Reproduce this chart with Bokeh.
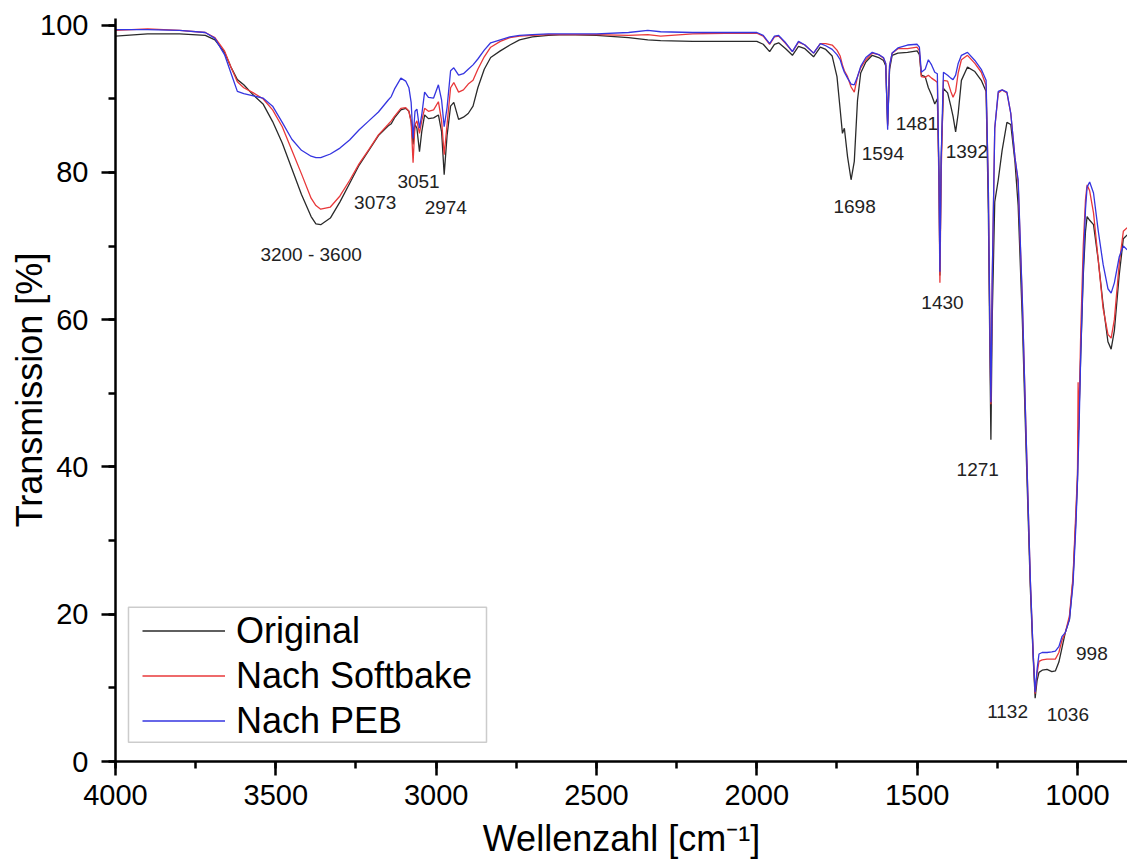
from bokeh.plotting import figure
from bokeh.models import (Range1d, SingleIntervalTicker, Legend, LegendItem,
                          ColumnDataSource, BoxAnnotation)
from bokeh.core.properties import value
from bokeh.embed import file_html
from bokeh.resources import INLINE

wavenumber = [4000, 3900, 3800, 3720, 3690, 3660, 3640, 3620, 3600, 3570,
              3540, 3510, 3480, 3450, 3420, 3390, 3375, 3360, 3330, 3300,
              3270, 3240, 3210, 3180, 3150, 3140, 3130, 3110, 3095, 3085,
              3078, 3072, 3066, 3060, 3052, 3045, 3036, 3024, 3008, 2993,
              2983, 2975, 2966, 2955, 2945, 2930, 2915, 2900, 2885, 2870,
              2850, 2830, 2800, 2770, 2740, 2700, 2650, 2600, 2500, 2400,
              2340, 2300, 2200, 2100, 2000, 1980, 1960, 1945, 1932, 1910,
              1889, 1870, 1850, 1823, 1802, 1785, 1765, 1750, 1740, 1733,
              1727, 1717, 1706, 1696, 1686, 1676, 1660, 1640, 1620, 1605,
              1598, 1592, 1586, 1578, 1560, 1530, 1500, 1493, 1487, 1475,
              1465, 1455, 1445, 1437, 1432, 1429, 1425, 1418, 1405, 1395,
              1388, 1380, 1372, 1362, 1343, 1320, 1300, 1285, 1278, 1273,
              1270, 1266, 1258, 1247, 1235, 1220, 1208, 1195, 1185, 1172,
              1160, 1147, 1138, 1132, 1126, 1120, 1110, 1095, 1080, 1069,
              1058, 1048, 1038, 1025, 1014, 1005, 1000, 998, 996, 990,
              982, 975, 970, 962, 950, 935, 920, 905, 895, 885,
              870, 857, 845]

original = [98.5, 98.8, 98.8, 98.6, 98.0, 96.3, 94.3, 92.6, 91.9, 90.5,
            89.3, 86.9, 84.0, 80.5, 77.0, 74.0, 73.0, 72.9, 73.8, 76.0,
            78.5, 81.0, 83.0, 85.0, 86.3, 86.6, 87.4, 88.5, 88.7, 88.3,
            87.0, 83.8, 86.5, 86.0, 82.8, 85.5, 87.8, 87.3, 87.4, 87.8,
            85.5, 79.7, 85.0, 89.0, 89.5, 87.2, 87.5, 88.0, 89.0, 91.5,
            94.0, 95.6, 96.5, 97.3, 98.0, 98.4, 98.6, 98.7, 98.6, 98.3,
            98.0, 97.9, 97.8, 97.8, 97.8, 97.4, 96.4, 97.4, 97.6, 96.8,
            95.9, 97.1, 96.8, 95.7, 97.0, 96.7, 95.8, 93.0, 88.5, 85.3,
            86.0, 82.1, 79.0, 81.5, 89.8, 93.5, 95.0, 95.9, 95.6, 95.2,
            94.5, 86.5, 94.0, 95.9, 96.2, 96.3, 96.5, 96.0, 93.2, 93.0,
            91.5, 90.5, 89.3, 90.0, 80.0, 66.0, 82.0, 91.4, 90.8, 89.0,
            87.6, 85.5, 88.0, 92.5, 94.3, 93.7, 92.5, 91.0, 75.0, 55.0,
            43.7, 60.0, 76.0, 79.0, 83.0, 86.8, 86.5, 81.5, 75.5, 60.0,
            42.0, 23.5, 14.0, 8.6, 11.0, 12.1, 12.4, 12.5, 12.2, 12.3,
            13.5, 15.5, 17.5, 19.3, 24.7, 33.0, 38.3, 44.0, 46.0, 55.0,
            66.0, 72.0, 74.0, 73.5, 72.9, 68.0, 62.0, 57.0, 56.0, 58.5,
            66.0, 71.0, 71.5]

softbake = [99.3, 99.5, 99.3, 99.0, 98.3, 96.5, 94.3, 92.3, 91.5, 90.8,
            90.0, 88.5, 86.2, 83.0, 79.8, 76.5, 75.5, 75.0, 75.3, 76.8,
            78.9, 81.2, 83.1, 85.1, 86.5, 87.0, 87.6, 88.7, 88.8, 88.3,
            86.8, 81.3, 86.5, 87.0, 85.3, 87.0, 88.7, 88.3, 88.5, 89.6,
            87.0, 82.4, 86.5, 91.5, 92.2, 90.9, 91.2, 92.0, 92.5, 94.0,
            95.7, 97.0, 97.8, 98.3, 98.5, 98.6, 98.7, 98.7, 98.7, 98.6,
            98.7, 98.5, 98.8, 98.9, 98.9, 98.5, 97.4, 98.4, 98.5, 97.5,
            96.4, 97.7, 97.3, 96.2, 97.5, 97.5, 97.3, 96.6, 95.8, 94.6,
            93.8, 93.0, 91.6, 90.9, 93.0, 94.2, 95.3, 96.2, 96.0, 95.5,
            94.8, 86.3, 94.5, 96.2, 96.8, 96.8, 97.0, 96.5, 93.0, 92.9,
            93.2, 92.8, 92.5, 92.2, 78.0, 65.0, 80.0, 92.5, 92.4, 91.0,
            90.2, 91.0, 93.5, 95.3, 95.9, 94.8, 93.6, 91.8, 78.0, 58.0,
            48.5, 65.0, 86.0, 90.8, 91.2, 90.8, 88.0, 82.0, 78.5, 62.5,
            44.0, 24.5, 14.5, 9.2, 12.0, 13.6, 13.8, 13.9, 13.9, 13.9,
            14.8, 16.5, 17.5, 19.8, 25.0, 34.0, 39.0, 51.5, 45.0, 58.0,
            70.0, 76.3, 78.3, 77.5, 74.5, 68.0, 61.5, 58.0, 57.5, 60.0,
            67.5, 72.0, 72.5]

peb = [99.4, 99.4, 99.3, 99.0, 98.2, 96.0, 93.5, 91.0, 90.7, 90.4,
       90.1, 89.0, 86.8, 84.5, 83.0, 82.2, 82.0, 82.0, 82.5, 83.3,
       84.4, 85.8, 87.0, 88.2, 89.8, 90.3, 91.3, 92.8, 92.4, 91.5,
       89.5, 84.6, 88.3, 88.6, 86.0, 87.8, 90.9, 90.2, 90.1, 91.9,
       89.8, 86.2, 88.8, 93.8, 94.2, 93.2, 93.4, 94.0, 94.6, 95.4,
       96.6, 97.6, 98.0, 98.4, 98.6, 98.7, 98.8, 98.8, 98.8, 99.0,
       99.3, 99.1, 99.0, 99.0, 99.0, 98.6, 97.5, 98.5, 98.6, 97.6,
       96.4, 97.8, 97.3, 96.2, 97.5, 97.2, 96.7, 96.0, 95.3, 94.3,
       93.6, 92.8, 92.0, 91.9, 93.0, 94.4, 95.6, 96.3, 96.0, 95.6,
       94.8, 85.8, 94.5, 96.2, 96.9, 97.3, 97.4, 97.0, 93.6, 94.0,
       95.3, 94.6, 93.6, 93.4, 80.0, 66.5, 82.0, 93.6, 93.2, 92.8,
       92.6, 93.2, 94.8, 95.9, 96.3, 95.2, 94.0, 92.5, 78.0, 58.0,
       48.8, 65.0, 86.0, 91.0, 91.2, 90.9, 88.0, 82.0, 79.0, 62.7,
       44.0, 24.7, 14.5, 9.4, 12.5, 14.6, 14.8, 14.8, 14.9, 15.0,
       15.6, 17.0, 17.5, 19.3, 24.0, 32.0, 38.0, 41.0, 43.5, 55.0,
       67.0, 75.0, 78.0, 78.7, 77.2, 72.0, 67.5, 64.2, 63.6, 65.0,
       68.5, 70.0, 69.5]

series_names = ["Original", "Nach Softbake", "Nach PEB"]

peak_text = ["3200 - 3600", "3073", "3051", "2974", "1698", "1594", "1481",
             "1392", "1430", "1271", "1132", "1036", "998"]
peak_x = [3390, 3190, 3055, 2970, 1695, 1607, 1501, 1345, 1421, 1311, 1218, 1030, 955]
peak_y = [68.8, 75.9, 78.8, 75.2, 75.4, 82.5, 86.6, 82.9, 62.4, 39.6, 6.8, 6.4, 14.7]

# legend frame corners (data units)
legend_box = dict(left=3959.5, right=2843, bottom=2.6, top=20.95)

FONT = "Liberation Sans"
colors = ["#2a2a2a", "#e8383a", "#3535e0"]

p = figure(width=1127, height=861, output_backend="svg", toolbar_location=None,
           x_range=Range1d(4000, 844), y_range=Range1d(0, 100.9),
           min_border_left=115, min_border_right=0, min_border_top=18,
           min_border_bottom=99)
p.outline_line_color = None
p.grid.visible = False
p.background_fill_color = "white"
p.border_fill_color = "white"

p.xaxis.ticker = SingleIntervalTicker(interval=500, num_minor_ticks=2)
p.yaxis.ticker = SingleIntervalTicker(interval=20, num_minor_ticks=2)
p.xaxis.axis_label = "Wellenzahl [cm\u207b\u00b9]"
p.yaxis.axis_label = "Transmission [%]"

for ax in (p.xaxis[0], p.yaxis[0]):
    ax.axis_line_width = 2.5
    ax.axis_line_color = "black"
    ax.major_tick_line_width = 2.5
    ax.minor_tick_line_width = 2.5
    ax.major_tick_line_color = "black"
    ax.minor_tick_line_color = "black"
    ax.major_tick_in = 0
    ax.major_tick_out = 14
    ax.minor_tick_in = 0
    ax.minor_tick_out = 7
    ax.major_label_text_font = FONT
    ax.major_label_text_font_size = "29px"
    ax.major_label_text_color = "black"
    ax.axis_label_text_font = FONT
    ax.axis_label_text_font_size = "36px"
    ax.axis_label_text_font_style = "normal"
    ax.axis_label_text_color = "black"

p.xaxis.major_label_standoff = 9
p.yaxis.major_label_standoff = 13
p.xaxis.axis_label_standoff = 10
p.yaxis.axis_label_standoff = -13

renderers = []
for vals, col in zip([original, softbake, peb], colors):
    src = ColumnDataSource(dict(x=wavenumber, y=vals))
    r = p.line("x", "y", source=src, line_color=col, line_width=1.3)
    renderers.append(r)

lbl_src = ColumnDataSource(dict(x=peak_x, y=peak_y, t=peak_text))
p.text("x", "y", text="t", source=lbl_src, text_font=value(FONT),
       text_font_size="19px", text_align="center", text_baseline="middle",
       text_color="#222222")

box = BoxAnnotation(left=legend_box["left"], right=legend_box["right"],
                    bottom=legend_box["bottom"], top=legend_box["top"],
                    fill_color="white", fill_alpha=1.0,
                    line_color="#555555", line_width=1.5)
p.add_layout(box)

legend = Legend(items=[LegendItem(label=n, renderers=[r]) for n, r in zip(series_names, renderers)],
                location=(27, 18))
legend.label_text_font = FONT
legend.label_text_font_size = "36px"
legend.label_text_color = "black"
legend.glyph_width = 83
legend.glyph_height = 45
legend.label_height = 45
legend.label_standoff = 11
legend.spacing = 0
legend.padding = 0
legend.margin = 0
legend.border_line_color = None
legend.background_fill_alpha = 0.0
p.add_layout(legend)

open("out.html", "w").write(file_html(p, INLINE))
